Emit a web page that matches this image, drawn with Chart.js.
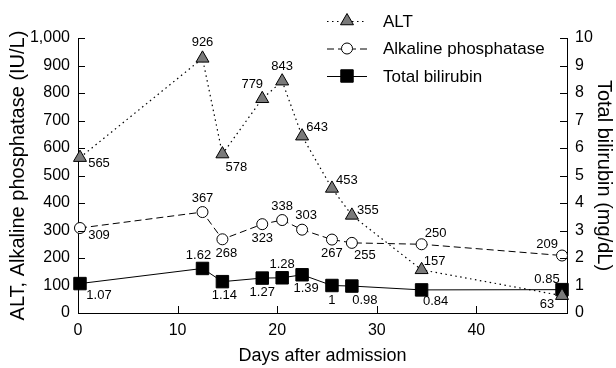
<!DOCTYPE html>
<html>
<head>
<meta charset="utf-8">
<script src="https://cdn.jsdelivr.net/npm/chart.js@4.4.1/dist/chart.umd.min.js"></script>
<style>
html,body{margin:0;padding:0;background:#fff;}
#wrap{width:616px;height:368px;}
canvas{display:block;}
</style>
</head>
<body>
<div id="wrap"><canvas id="c" width="616" height="368"></canvas></div>
<script>
// ---- data ----
const days = [0.2, 12.5, 14.5, 18.5, 20.5, 22.5, 25.5, 27.5, 34.5, 48.6];
const altValues = [565, 926, 578, 779, 843, 643, 453, 355, 157, 63];
const alpValues = [309, 367, 268, 323, 338, 303, 267, 255, 250, 209];
const tbilValues = [1.07, 1.62, 1.14, 1.27, 1.28, 1.39, 1, 0.98, 0.84, 0.85];
const seriesNames = ['ALT', 'Alkaline phosphatase', 'Total bilirubin'];
const xTicks = [0, 10, 20, 30, 40];
const leftTicks = [0, 100, 200, 300, 400, 500, 600, 700, 800, 900, 1000];
const rightTicks = [0, 1, 2, 3, 4, 5, 6, 7, 8, 9, 10];
const xTitle = 'Days after admission';
const leftTitle = 'ALT, Alkaline phosphatase (IU/L)';
const rightTitle = 'Total bilirubin (mg/dL)';

// ---- label placement (style) ----
const altLabelOffsets = [[19,6],[0,-16],[14,13],[-10,-14],[0,-15],[15,-9],[15,-8],[16,-5],[13,-8],[-15,9]];
const alpLabelOffsets = [[19,7],[0,-14],[4,14],[0,14],[0,-14],[4,-14],[0,14],[13,13],[14,-11],[-15,-11]];
const tbilLabelOffsets = [[19,12],[-4,-13],[2,14],[0,14],[0,-13],[4,14],[0,15],[13,14],[14,12],[-15,-10]];

const FONT = '"Liberation Sans", Arial, Helvetica, sans-serif';
Chart.defaults.font.family = FONT;
Chart.defaults.color = '#000';

function pts(vals){ return vals.map((v,i)=>({x: days[i], y: v})); }

const datasets = [
  {
    label: seriesNames[0], data: pts(altValues), yAxisID: 'y',
    borderColor: '#000', borderWidth: 1.2, borderDash: [1.5, 3.5],
    pointStyle: 'triangle', pointRadius: 7.5, pointBackgroundColor: '#7a7a7a',
    pointBorderColor: '#000', pointBorderWidth: 1, tension: 0, clip: false,
    labelOffsets: altLabelOffsets
  },
  {
    label: seriesNames[1], data: pts(alpValues), yAxisID: 'y',
    borderColor: '#000', borderWidth: 1, borderDash: [7, 4],
    pointStyle: 'circle', pointRadius: 5.5, pointBackgroundColor: '#fff',
    pointBorderColor: '#000', pointBorderWidth: 1, tension: 0, clip: false,
    labelOffsets: alpLabelOffsets
  },
  {
    label: seriesNames[2], data: pts(tbilValues), yAxisID: 'y2',
    borderColor: '#000', borderWidth: 1, borderDash: [],
    pointStyle: 'rect', pointRadius: 8.8, pointBackgroundColor: '#000',
    pointBorderColor: '#000', pointBorderWidth: 1, tension: 0, clip: false,
    labelOffsets: tbilLabelOffsets
  }
];

function drawMarker(ctx, style, x, y, r, fill, stroke) {
  ctx.save();
  ctx.beginPath();
  if (style === 'triangle') {
    let rad = 0;
    ctx.moveTo(x + Math.sin(rad) * r, y - Math.cos(rad) * r);
    rad += 2 * Math.PI / 3;
    ctx.lineTo(x + Math.sin(rad) * r, y - Math.cos(rad) * r);
    rad += 2 * Math.PI / 3;
    ctx.lineTo(x + Math.sin(rad) * r, y - Math.cos(rad) * r);
    ctx.closePath();
  } else if (style === 'circle') {
    ctx.arc(x, y, r, 0, Math.PI * 2);
  } else {
    const s = Math.SQRT1_2 * r;
    ctx.rect(x - s, y - s, 2 * s, 2 * s);
  }
  ctx.fillStyle = fill; ctx.fill();
  ctx.lineWidth = 1; ctx.strokeStyle = stroke; ctx.stroke();
  ctx.restore();
}

const tickMarks = {
  id: 'tickMarks',
  afterDraw(chart) {
    const {ctx, chartArea: a, scales} = chart;
    const L = 7;
    ctx.save();
    ctx.strokeStyle = '#000'; ctx.lineWidth = 1;
    ctx.beginPath();
    scales.x.ticks.forEach(t => {
      const p = Math.round(scales.x.getPixelForValue(t.value)) + 0.5;
      ctx.moveTo(p, a.bottom); ctx.lineTo(p, a.bottom - L);
    });
    scales.y.ticks.forEach(t => {
      const p = Math.round(scales.y.getPixelForValue(t.value)) + 0.5;
      ctx.moveTo(a.left, p); ctx.lineTo(a.left + L, p);
    });
    scales.y2.ticks.forEach(t => {
      const p = Math.round(scales.y2.getPixelForValue(t.value)) + 0.5;
      ctx.moveTo(a.right, p); ctx.lineTo(a.right - L, p);
    });
    ctx.stroke();
    ctx.restore();
  }
};

const valueLabels = {
  id: 'valueLabels',
  afterDatasetsDraw(chart) {
    const ctx = chart.ctx;
    ctx.save();
    ctx.font = '13px ' + FONT;
    ctx.fillStyle = '#000';
    ctx.textAlign = 'center';
    ctx.textBaseline = 'middle';
    chart.data.datasets.forEach((ds, di) => {
      const meta = chart.getDatasetMeta(di);
      meta.data.forEach((el, i) => {
        const off = ds.labelOffsets[i];
        ctx.fillText(String(ds.data[i].y), el.x + off[0], el.y + off[1]);
      });
    });
    ctx.restore();
  }
};

const customLegend = {
  id: 'customLegend',
  afterDraw(chart) {
    const ctx = chart.ctx;
    const rows = [21, 48.5, 76];
    const x0 = 327, x1 = 367, xt = 383;
    chart.data.datasets.forEach((ds, i) => {
      const y = rows[i];
      ctx.save();
      ctx.strokeStyle = '#000';
      ctx.lineWidth = ds.borderWidth;
      ctx.setLineDash(ds.borderDash);
      ctx.beginPath();
      ctx.moveTo(x0, y + 0.5); ctx.lineTo(x1, y + 0.5);
      ctx.stroke();
      ctx.restore();
      drawMarker(ctx, ds.pointStyle, (x0 + x1) / 2, y, ds.pointRadius, ds.pointBackgroundColor, '#000');
      ctx.save();
      ctx.font = '17px ' + FONT;
      ctx.fillStyle = '#000';
      ctx.textAlign = 'left';
      ctx.textBaseline = 'middle';
      ctx.fillText(ds.label, xt, y + 1);
      ctx.restore();
    });
  }
};

const baseAxis = {
  grid: { display: false, drawTicks: false },
  border: { display: true, color: '#000', width: 1 }
};

new Chart(document.getElementById('c'), {
  type: 'line',
  data: { datasets },
  options: {
    responsive: false,
    animation: false,
    devicePixelRatio: 1,
    layout: { padding: { top: 38, left: 0, right: 0, bottom: 0 } },
    plugins: { legend: { display: false }, tooltip: { enabled: false } },
    scales: {
      x: {
        ...baseAxis, type: 'linear', position: 'bottom', min: 0, max: 49.1,
        afterBuildTicks: s => { s.ticks = xTicks.map(v => ({ value: v })); },
        afterFit: s => { s.height = 55; },
        ticks: { font: { size: 16 }, padding: 8, color: '#000', maxRotation: 0 },
        title: { display: true, text: xTitle, font: { size: 18 }, padding: { top: 0, bottom: 1 }, color: '#000' }
      },
      y: {
        ...baseAxis, type: 'linear', position: 'left', min: 0, max: 1000,
        afterBuildTicks: s => { s.ticks = leftTicks.map(v => ({ value: v })); },
        afterFit: s => { s.width = 78; },
        ticks: { font: { size: 16 }, padding: 8, color: '#000', callback: v => v.toLocaleString('en-US') },
        title: { display: true, text: leftTitle, font: { size: 20 }, padding: { top: 6, bottom: 0 }, color: '#000' }
      },
      y2: {
        ...baseAxis, type: 'linear', position: 'right', min: 0, max: 10,
        afterBuildTicks: s => { s.ticks = rightTicks.map(v => ({ value: v })); },
        afterFit: s => { s.width = 49; },
        ticks: { font: { size: 16 }, padding: 8, color: '#000' },
        title: { display: true, text: rightTitle, font: { size: 20 }, padding: { top: 0, bottom: 0 }, color: '#000' }
      }
    }
  },
  plugins: [tickMarks, valueLabels, customLegend]
});
</script>
</body>
</html>
